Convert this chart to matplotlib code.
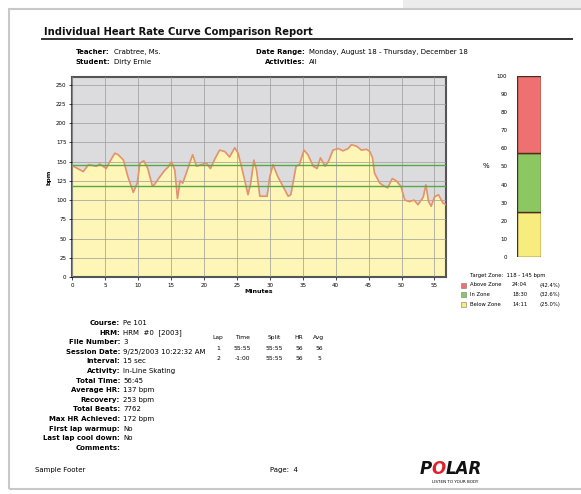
import matplotlib
matplotlib.use("Agg")
import matplotlib.pyplot as plt
from matplotlib.patches import Rectangle

# heart rate curve (minutes, bpm)
minutes = [0, 1.7, 2.5, 3.7, 4.2, 5.2, 5.6, 6.5, 7.0, 7.8, 8.5, 9.3, 9.9, 10.3, 10.9,
           11.5, 12.2, 12.5, 13.3, 14.1, 14.6, 15.1, 15.6, 16.0, 16.4, 16.8, 17.5, 18.3,
           18.9, 19.6, 20.4, 21.0, 21.7, 22.4, 23.2, 23.9, 24.7, 25.2, 25.7, 26.2, 26.7,
           27.1, 27.6, 28.0, 28.5, 29.2, 29.6, 30.0, 30.5, 31.2, 32.0, 32.8, 33.2, 34.0,
           34.5, 35.2, 35.8, 36.6, 37.2, 37.7, 38.4, 38.9, 39.6, 40.4, 41.1, 41.9, 42.4,
           43.2, 43.9, 44.7, 45.2, 45.6, 45.9, 46.7, 47.4, 47.9, 48.6, 49.2, 49.9, 50.5,
           51.2, 51.9, 52.5, 53.3, 53.7, 54.1, 54.5, 55.0, 55.6, 56.3, 56.75]
bpm = [145, 137, 146, 144, 147, 141, 148, 161, 159, 152, 130, 110, 122, 148, 151,
       141, 118, 120, 130, 139, 143, 150, 139, 102, 125, 122, 139, 159,
       144, 146, 148, 141, 154, 165, 163, 156, 168, 161, 144, 126, 107,
       121, 152, 139, 105, 105, 105, 130, 146, 131, 118, 105, 107, 144,
       146, 165, 159, 144, 141, 155, 144, 150, 165, 167, 164, 167, 172,
       170, 165, 166, 163, 155, 135, 122, 118, 116, 128, 125, 118, 100,
       98, 100, 94, 104, 120, 98, 92, 104, 107, 96, 94]
zone_limits = [118, 145]
x_ticks = list(range(0, 60, 5))
y_ticks = list(range(0, 275, 25))

# time in zone
zone_names = ["Below Zone", "In Zone", "Above Zone"]
zone_pct = [25.0, 32.6, 42.4]
zone_times = ["14:11", "18:30", "24:04"]
zone_colors = ["#f7ec7e", "#8cc862", "#ee7070"]

header_left = [("Teacher:", "Crabtree, Ms."), ("Student:", "Dirty Ernie")]
header_right = [("Date Range:", "Monday, August 18 - Thursday, December 18"),
                ("Activities:", "All")]
info_labels = ["Course:", "HRM:", "File Number:", "Session Date:", "Interval:", "Activity:",
               "Total Time:", "Average HR:", "Recovery:", "Total Beats:", "Max HR Achieved:",
               "First lap warmup:", "Last lap cool down:", "Comments:"]
info_values = ["Pe 101", "HRM  #0  [2003]", "3", "9/25/2003 10:22:32 AM", "15 sec",
               "In-Line Skating", "56:45", "137 bpm", "253 bpm", "7762", "172 bpm",
               "No", "No", ""]
lap_header = ["Lap", "Time", "Split", "HR", "Avg"]
lap_rows = [["1", "55:55", "55:55", "56", "56"],
            ["2", "-1:00", "55:55", "56", "5"]]

W, H = 581, 494
fig = plt.figure(figsize=(W / 100, H / 100), dpi=100)
fig.patch.set_facecolor("white")

def fx(px): return px / W
def fy(py): return 1 - py / H

# page frame
fig.patches.append(Rectangle((fx(403), fy(8)), fx(178), 8 / H, transform=fig.transFigure,
                             facecolor="#ececec", edgecolor="none", zorder=-5))
fig.patches.append(Rectangle((fx(9), fy(489)), fx(580), 480 / H, transform=fig.transFigure,
                             facecolor="none", edgecolor="#c8c8c8", linewidth=1.5, zorder=-5))

# title
fig.text(fx(44), fy(35), "Individual Heart Rate Curve Comparison Report", fontsize=7.2,
         fontweight="bold", ha="left", va="baseline", color="#111111")
fig.add_artist(plt.Line2D([fx(42), fx(572)], [fy(39.5), fy(39.5)], color="#333333",
                          linewidth=1.4, transform=fig.transFigure))

for i, (lab, val) in enumerate(header_left):
    y = fy(52 + i * 10)
    fig.text(fx(110), y, lab, fontsize=5, fontweight="bold", ha="right", va="center")
    fig.text(fx(114), y, val, fontsize=5, ha="left", va="center")
for i, (lab, val) in enumerate(header_right):
    y = fy(52 + i * 10)
    fig.text(fx(305), y, lab, fontsize=5, fontweight="bold", ha="right", va="center")
    fig.text(fx(309), y, val, fontsize=5, ha="left", va="center")

# main chart
ax = fig.add_axes([fx(72), fy(277), (446 - 72) / W, (277 - 77) / H])
ax.set_facecolor("#dcdcdf")
ax.fill_between(minutes, 0, bpm, color="#fdf6b6", zorder=1, linewidth=0)
ax.plot(minutes, bpm, color="#e3926c", linewidth=1.2, zorder=3)
for lim in zone_limits:
    ax.axhline(lim, color="#5aa845", linewidth=1.0, zorder=4)
ax.set_xlim(0, minutes[-1])
ax.set_ylim(0, 260)
ax.set_xticks(x_ticks)
ax.set_yticks(y_ticks)
ax.grid(True, color="#9a9a9a", linewidth=0.5, zorder=2)
ax.set_axisbelow(False)
ax.tick_params(labelsize=4, length=2, width=0.5, pad=2)
for s in ax.spines.values():
    s.set_linewidth(1.5)
    s.set_color("#555555")
ax.set_xlabel("Minutes", fontsize=4.5, fontweight="bold", labelpad=1)
ax.set_ylabel("bpm", fontsize=4.5, fontweight="bold", labelpad=3)

# zone bar
bx = fig.add_axes([fx(517), fy(257), (541 - 517) / W, (257 - 76) / H])
bottom = 0
for pct, col in zip(zone_pct, zone_colors):
    bx.bar(0, pct, bottom=bottom, width=1, color=col, edgecolor="#4a2e1c", linewidth=1.0)
    bottom += pct
bx.set_xlim(-0.5, 0.5)
bx.set_ylim(0, 100)
bx.set_yticks(range(0, 101, 10))
bx.set_xticks([])
bx.tick_params(labelsize=4, length=0, pad=7)
for s in bx.spines.values():
    s.set_visible(False)
bx.set_ylabel("%", fontsize=5, rotation=0, labelpad=8, va="center")

fig.text(fx(470), fy(275), "Target Zone:  " + str(zone_limits[0]) + " - " + str(zone_limits[1]) + " bpm",
         fontsize=3.8, ha="left", va="center")
order = [2, 1, 0]
for r, k in enumerate(order):
    y = fy(285 + r * 9.5)
    fig.patches.append(Rectangle((fx(461), y - 2.5 / H), 5 / W, 5 / H, transform=fig.transFigure,
                                 facecolor=zone_colors[k], edgecolor="#777777", linewidth=0.4))
    fig.text(fx(470), y, zone_names[k], fontsize=3.8, ha="left", va="center")
    fig.text(fx(512), y, zone_times[k], fontsize=3.8, ha="left", va="center")
    fig.text(fx(540), y, "(%.1f%%)" % zone_pct[k], fontsize=3.8, ha="left", va="center")

# session info
for i, (lab, val) in enumerate(zip(info_labels, info_values)):
    y = fy(323 + i * 9.6)
    fig.text(fx(120), y, lab, fontsize=5, fontweight="bold", ha="right", va="center")
    fig.text(fx(123), y, val, fontsize=5, ha="left", va="center")

lap_x = [218, 242, 274, 299, 319]
for j, h in enumerate(lap_header):
    fig.text(fx(lap_x[j]), fy(337), h, fontsize=4.3, ha="center", va="center")
for i, row in enumerate(lap_rows):
    for j, v in enumerate(row):
        fig.text(fx(lap_x[j]), fy(348 + i * 10), v, fontsize=4.3, ha="center", va="center")

# footer
fig.text(fx(35), fy(470), "Sample Footer", fontsize=5, ha="left", va="center")
fig.text(fx(270), fy(470), "Page:  4", fontsize=5, ha="left", va="center")
renderer = fig.canvas.get_renderer()
xpos = fx(420)
for part, col in [("P", "#111111"), ("O", "#e0202a"), ("LAR", "#111111")]:
    t = fig.text(xpos, fy(469), part, fontsize=12, fontweight="heavy", style="italic",
                 color=col, ha="left", va="center")
    bb = t.get_window_extent(renderer)
    xpos = (bb.x1 - 0.5) / W
fig.text(fx(455), fy(482), "LISTEN TO YOUR BODY", fontsize=3, ha="center", va="center")

fig.savefig("out.png", dpi=100)
